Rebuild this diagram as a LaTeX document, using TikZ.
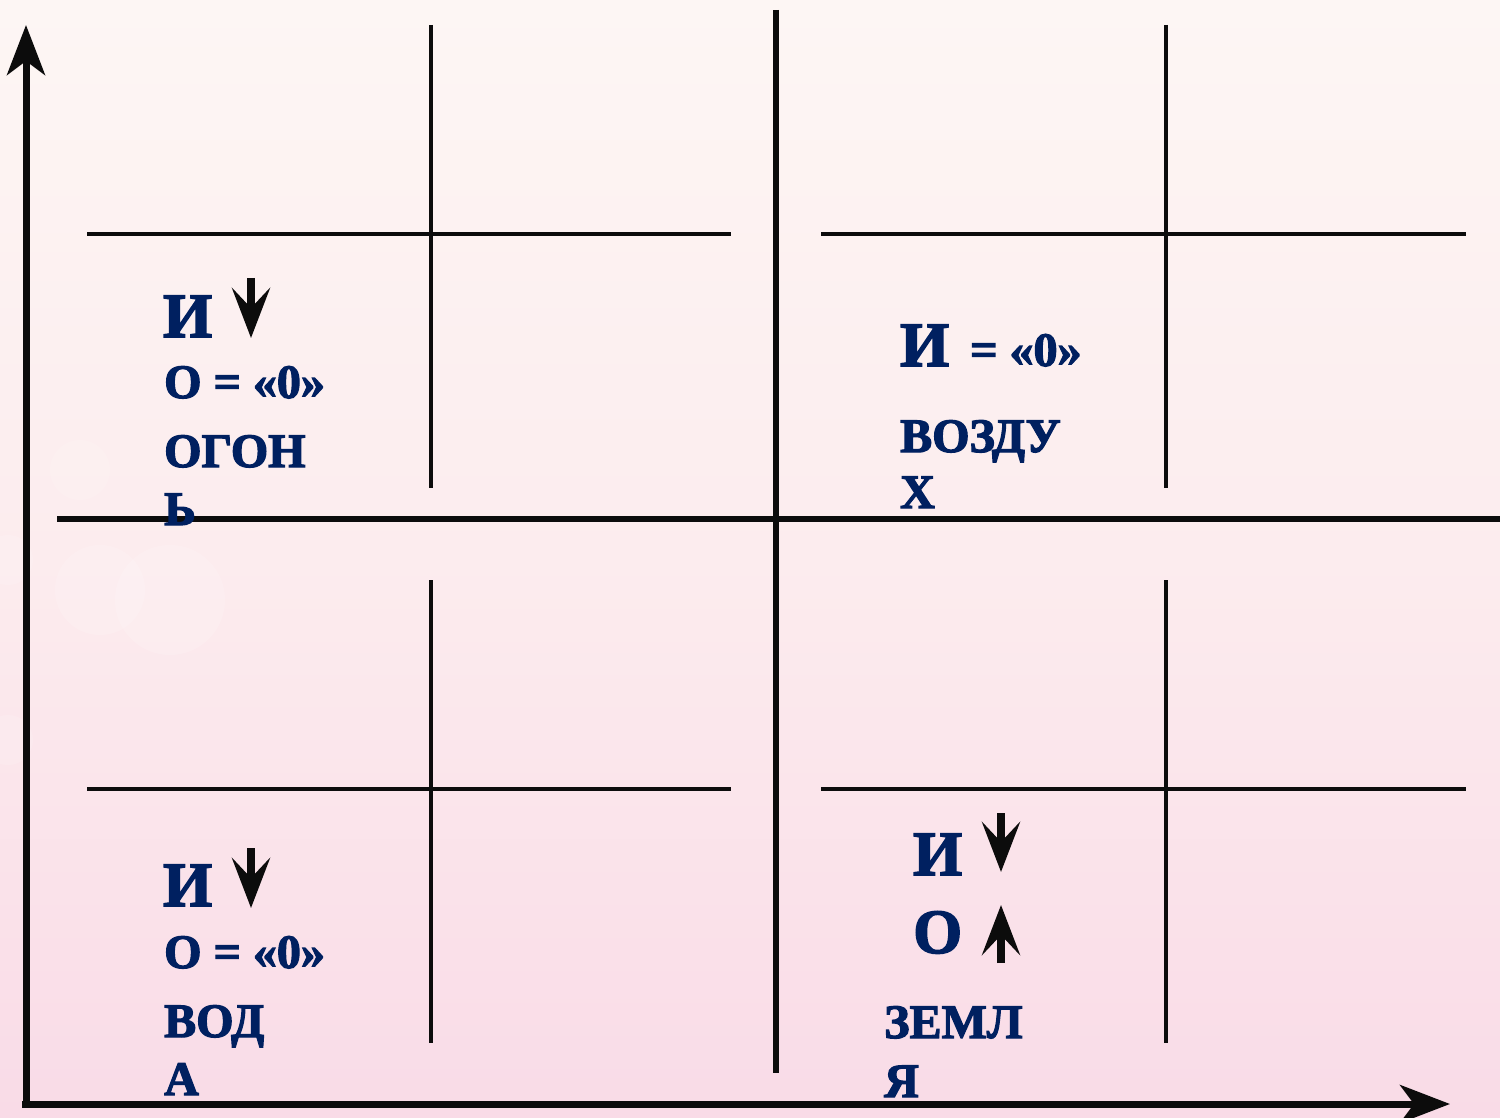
\documentclass[tikz,border=0pt]{standalone}
\usepackage{fontspec}
\setmainfont{Liberation Serif}
\newfontfamily\heavyfont{Liberation Serif Bold}[FakeBold=2.5]
\usetikzlibrary{arrows.meta}
\definecolor{navy}{RGB}{0,32,96}
\definecolor{ink}{RGB}{12,12,12}
\definecolor{bgtop}{RGB}{253,246,244}
\definecolor{bgmid}{RGB}{252,236,238}
\definecolor{bgbot}{RGB}{249,219,231}
\tikzset{
  axis/.style={draw=ink,line width=7pt,-{Stealth[length=50pt,width=38pt,inset=14pt]}},
  midline/.style={draw=ink,line width=6pt},
  gridline/.style={draw=ink,line width=4pt},
  smallarrow/.style={draw=ink,line width=8pt,-{Stealth[length=50pt,width=38pt,inset=20pt]}},
  big/.style={font=\heavyfont\fontsize{63}{63}\selectfont,text=navy,anchor=base west,inner sep=0pt},
  mid/.style={font=\heavyfont\fontsize{48}{48}\selectfont,text=navy,anchor=base west,inner sep=0pt},
  word/.style={font=\heavyfont\fontsize{48}{48}\selectfont,text=navy,anchor=base west,inner sep=0pt},
}
\begin{document}
\begin{tikzpicture}[x=1pt,y=-1pt]
\useasboundingbox (0,0) rectangle (1500,1118);
\shade[top color=bgtop,bottom color=bgbot,middle color=bgmid] (0,0) rectangle (1500,1118);
% faint bokeh
\fill[white,opacity=0.15] (100,590) circle (45);
\fill[white,opacity=0.15] (170,600) circle (55);
\fill[white,opacity=0.12] (80,470) circle (30);
\fill[white,opacity=0.15] (8,560) circle (25);
\fill[white,opacity=0.15] (8,740) circle (25);

% axes
\coordinate (o) at (26,1104);
\coordinate (ytip) at (26,25);
\coordinate (xtip) at (1450,1104);
\draw[axis] (26,1107) -- (ytip);
\draw[axis] (22,1104) -- (xtip);

% middle cross
\coordinate (mvt) at (776,10); \coordinate (mvb) at (776,1073);
\coordinate (mhl) at (57,519); \coordinate (mhr) at (1500,519);
\draw[midline] (mvt) -- (mvb);
\draw[midline] (mhl) -- (mhr);

% quadrant grids
\foreach \vx/\hl/\hr in {431/87/731, 1166/821/1466}{
  \foreach \vt/\vb/\hy in {25/488/234, 580/1043/789}{
    \draw[gridline] (\vx,\vt) -- (\vx,\vb);
    \draw[gridline] (\hl,\hy) -- (\hr,\hy);
  }
}

% top-left: fire
\node[big] (tlI) at (163,337) {И};
\coordinate (tla1) at (251,278); \coordinate (tla2) at (251,338);
\draw[smallarrow] (tla1) -- (tla2);
\node[mid] (tlO) at (164,398) {О = «0»};
\node[word] (tlW1) at (164,467) {ОГОН};
\node[word] (tlW2) at (164,525) {Ь};

% top-right: air
\node[big] (trI) at (900,366) {И};
\node[mid] (trEq) at (970,366) {= «0»};
\node[word] (trW1) at (900,452) {ВОЗДУ};
\node[word] (trW2) at (900,508) {Х};

% bottom-left: water
\node[big] (blI) at (163,906) {И};
\coordinate (bla1) at (251,848); \coordinate (bla2) at (251,908);
\draw[smallarrow] (bla1) -- (bla2);
\node[mid] (blO) at (164,968) {О = «0»};
\node[word] (blW1) at (164,1037) {ВОД};
\node[word] (blW2) at (164,1095) {А};

% bottom-right: earth
\node[big] (brI) at (913,875) {И};
\coordinate (bra1) at (1001,813); \coordinate (bra2) at (1001,872);
\draw[smallarrow] (bra1) -- (bra2);
\node[big] (brO) at (913,953) {О};
\coordinate (brb1) at (1001,963); \coordinate (brb2) at (1001,905);
\draw[smallarrow] (brb1) -- (brb2);
\node[word] (brW1) at (884,1038) {ЗЕМЛ};
\node[word] (brW2) at (884,1097) {Я};
\end{tikzpicture}
\end{document}
